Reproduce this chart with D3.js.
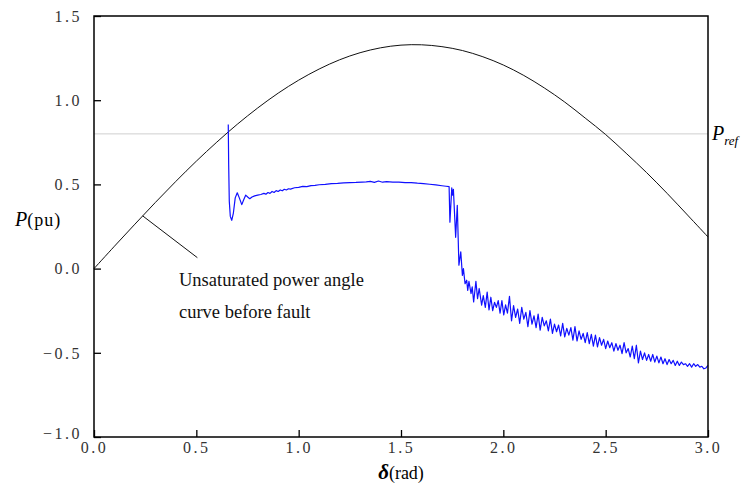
<!DOCTYPE html>
<html>
  <head>
    <title>Power angle</title>
    <script src="https://cdn.jsdelivr.net/npm/d3@7"></script>
    <style>
      body { margin: 0; background: #fff; }
    </style>
  </head>
  <body>
    <svg width="741" height="485" id="mainsvg"></svg>
    <script>
    // unsaturated power-angle curve (delta rad, P pu)
    const curveDelta = [0, 0.1, 0.2, 0.3, 0.4, 0.5, 0.6, 0.7, 0.8, 0.9, 1.0, 1.1, 1.2, 1.3, 1.4, 1.5,
                        1.6, 1.7, 1.8, 1.9, 2.0, 2.1, 2.2, 2.3, 2.4, 2.5, 2.6, 2.7, 2.8, 2.9, 3.0];
    const curveP = [0, 0.133, 0.264, 0.393, 0.518, 0.638, 0.751, 0.857, 0.954, 1.042, 1.119, 1.185, 1.240,
                    1.282, 1.311, 1.327, 1.329, 1.318, 1.295, 1.258, 1.209, 1.147, 1.073, 0.989, 0.894,
                    0.796, 0.685, 0.570, 0.447, 0.318, 0.188];

    // simulated response (delta, P)
    const response = [
      [0.656, 0.855], [0.658, 0.62], [0.661, 0.40], [0.666, 0.31], [0.673, 0.287], [0.681, 0.33],
      [0.690, 0.42], [0.700, 0.45], [0.710, 0.42], [0.722, 0.38], [0.732, 0.41], [0.741, 0.436],
      [0.751, 0.425], [0.761, 0.415], [0.772, 0.425], [0.785, 0.432], [0.80, 0.436], [0.815, 0.44],
      [0.83, 0.447], [0.84, 0.442], [0.85, 0.452], [0.86, 0.447], [0.87, 0.458], [0.88, 0.452],
      [0.89, 0.463], [0.90, 0.458], [0.91, 0.467], [0.92, 0.462], [0.93, 0.471], [0.94, 0.467],
      [0.95, 0.474], [0.96, 0.472], [0.98, 0.480], [1.00, 0.482], [1.02, 0.488], [1.04, 0.487],
      [1.06, 0.493], [1.08, 0.494], [1.10, 0.498], [1.13, 0.500], [1.16, 0.505], [1.19, 0.506],
      [1.22, 0.509], [1.25, 0.511], [1.28, 0.512], [1.31, 0.514], [1.33, 0.515], [1.35, 0.518],
      [1.37, 0.512], [1.39, 0.520], [1.41, 0.513], [1.43, 0.516], [1.46, 0.513], [1.49, 0.514],
      [1.52, 0.511], [1.55, 0.510], [1.58, 0.507], [1.61, 0.505], [1.64, 0.501], [1.67, 0.497],
      [1.70, 0.492], [1.72, 0.489], [1.735, 0.487],
      [1.739, 0.276], [1.748, 0.479], [1.752, 0.436], [1.756, 0.471], [1.767, 0.186], [1.775, 0.376],
      [1.783, 0.02], [1.792, 0.10], [1.800, -0.04], [1.805, 0.0], [1.813, -0.09], [1.821, -0.069],
      [1.826, -0.13], [1.832, -0.075], [1.842, -0.148], [1.848, -0.109], [1.855, -0.198],
      [1.866, -0.075], [1.874, -0.178], [1.882, -0.118], [1.894, -0.217], [1.902, -0.16],
      [1.912, -0.23], [1.921, -0.14], [1.930, -0.245], [1.939, -0.17], [1.948, -0.25],
      [1.957, -0.20], [1.966, -0.23], [1.975, -0.19], [1.984, -0.265], [1.993, -0.19],
      [2.002, -0.275], [2.011, -0.215], [2.020, -0.265], [2.030, -0.165], [2.040, -0.31],
      [2.050, -0.22], [2.060, -0.29], [2.070, -0.24], [2.080, -0.325], [2.090, -0.23],
      [2.100, -0.30], [2.110, -0.26], [2.120, -0.345], [2.130, -0.25], [2.140, -0.33],
      [2.150, -0.28], [2.160, -0.35], [2.170, -0.27], [2.180, -0.365], [2.190, -0.29],
      [2.200, -0.34], [2.210, -0.31], [2.220, -0.37], [2.230, -0.30], [2.240, -0.385],
      [2.250, -0.33], [2.260, -0.375], [2.270, -0.335], [2.280, -0.40], [2.290, -0.325],
      [2.300, -0.405], [2.310, -0.355], [2.320, -0.395], [2.330, -0.35], [2.340, -0.425],
      [2.350, -0.345], [2.360, -0.43], [2.370, -0.37], [2.380, -0.42], [2.390, -0.385],
      [2.400, -0.44], [2.410, -0.38], [2.420, -0.445], [2.430, -0.39], [2.440, -0.46],
      [2.450, -0.395], [2.460, -0.465], [2.470, -0.41], [2.480, -0.455], [2.490, -0.42],
      [2.500, -0.475], [2.510, -0.43], [2.520, -0.47], [2.530, -0.44], [2.540, -0.49],
      [2.550, -0.445], [2.560, -0.485], [2.570, -0.455], [2.580, -0.505], [2.590, -0.44],
      [2.600, -0.50], [2.610, -0.475], [2.620, -0.525], [2.630, -0.46], [2.640, -0.535],
      [2.650, -0.455], [2.660, -0.56], [2.670, -0.49], [2.680, -0.54], [2.690, -0.50],
      [2.700, -0.545], [2.710, -0.51], [2.720, -0.55], [2.730, -0.51], [2.740, -0.555],
      [2.750, -0.52], [2.760, -0.56], [2.770, -0.525], [2.780, -0.565], [2.790, -0.535],
      [2.800, -0.57], [2.810, -0.54], [2.820, -0.565], [2.830, -0.545], [2.840, -0.575],
      [2.850, -0.55], [2.860, -0.575], [2.870, -0.555], [2.880, -0.57], [2.890, -0.565],
      [2.900, -0.58], [2.910, -0.565], [2.920, -0.585], [2.930, -0.565], [2.940, -0.58],
      [2.950, -0.57], [2.960, -0.585], [2.970, -0.58], [2.980, -0.595], [2.990, -0.59], [3.000, -0.575]
    ];

    const pRef = 0.8;
    const xTicks = [0, 0.5, 1.0, 1.5, 2.0, 2.5, 3.0];
    const yTicks = [-1.0, -0.5, 0, 0.5, 1.0, 1.5];
    const annot = [[0.238, 0.313], [0.505, 0.065]];
    const annotText = ['Unsaturated power angle', 'curve before fault'];

    const serif = '"Liberation Serif", "DejaVu Serif", serif';
    let svg = d3.select('#mainsvg');
    const m = {left: 94, right: 708, top: 16, bottom: 437};

    const x = d3.scaleLinear().domain([0, 3]).range([m.left, m.right]);
    const y = d3.scaleLinear().domain([-1, 1.5]).range([m.bottom, m.top]);

    // Pref line
    svg.append('line')
      .attr('x1', x(0)).attr('x2', x(3))
      .attr('y1', y(pRef)).attr('y2', y(pRef))
      .attr('stroke', '#cfcfcf').attr('stroke-width', 1);

    const line = d3.line().x(d => x(d[0])).y(d => y(d[1]));

    svg.append('path')
      .datum(curveDelta.map((d, i) => [d, curveP[i]]))
      .attr('d', line.curve(d3.curveCatmullRom))
      .attr('fill', 'none').attr('stroke', '#111').attr('stroke-width', 1);

    svg.append('path')
      .datum(response)
      .attr('d', d3.line().x(d => x(d[0])).y(d => y(d[1])))
      .attr('fill', 'none').attr('stroke', '#1010ff').attr('stroke-width', 1.2)
      .attr('stroke-linejoin', 'round');

    // annotation leader
    svg.append('line')
      .attr('x1', x(annot[0][0])).attr('y1', y(annot[0][1]))
      .attr('x2', x(annot[1][0])).attr('y2', y(annot[1][1]))
      .attr('stroke', '#111').attr('stroke-width', 1);

    svg.selectAll('.annot').data(annotText).join('text')
      .attr('class', 'annot')
      .attr('x', 179).attr('y', (d, i) => 286 + i * 32)
      .style('font-family', serif).style('font-size', '18.5px').attr('fill', '#111')
      .text(d => d);

    // axes
    const xAxis = d3.axisBottom(x).tickValues(xTicks).tickSize(-7).tickSizeOuter(0)
      .tickFormat(d3.format('.1f'));
    const gx = svg.append('g').attr('transform', `translate(0,${m.bottom})`).call(xAxis);
    const yAxis = d3.axisLeft(y).tickValues(yTicks).tickSize(-7).tickSizeOuter(0)
      .tickFormat(d => d3.format('.1f')(d).replace('-', '\u2212'));
    const gy = svg.append('g').attr('transform', `translate(${m.left},0)`).call(yAxis);

    [gx, gy].forEach(g => {
      g.select('.domain').remove();
      g.selectAll('.tick line').attr('stroke', '#000').attr('stroke-width', 1.3);
      g.selectAll('.tick text').style('font-family', serif)
        .style('font-size', '16px').attr('fill', '#333').attr('letter-spacing', 2.5);
    });
    gx.selectAll('.tick text').attr('dy', 0).attr('y', 16);
    gy.selectAll('.tick text').attr('x', -12).attr('dy', '0.33em');
    gy.selectAll('.tick').filter(d => d === -1.0).select('text').attr('dy', '0.1em');

    // frame
    svg.append('rect')
      .attr('x', m.left).attr('y', m.top)
      .attr('width', m.right - m.left).attr('height', m.bottom - m.top)
      .attr('fill', 'none').attr('stroke', '#000').attr('stroke-width', 1.5);

    // axis titles
    const xt = svg.append('text').attr('x', x(1.5)).attr('y', 479)
      .attr('text-anchor', 'middle').style('font-family', serif).style('font-size', '18px');
    xt.append('tspan').attr('font-style', 'italic').attr('font-weight', 'bold')
      .style('font-size', '21px').text('δ');
    xt.append('tspan').text('(rad)');

    const yt = svg.append('text').attr('x', 15).attr('y', 226)
      .style('font-family', serif).style('font-size', '18px');
    yt.append('tspan').attr('font-style', 'italic').style('font-size', '20px').text('P');
    yt.append('tspan').attr('letter-spacing', 1).text('(pu)');

    const pr = svg.append('text').attr('x', x(3) + 4).attr('y', y(pRef) + 6)
      .attr('font-style', 'italic').style('font-family', serif).style('font-size', '20px');
    pr.append('tspan').text('P');
    pr.append('tspan').style('font-size', '13px').attr('dy', 5).text('ref');
    </script>
  </body>
</html>
